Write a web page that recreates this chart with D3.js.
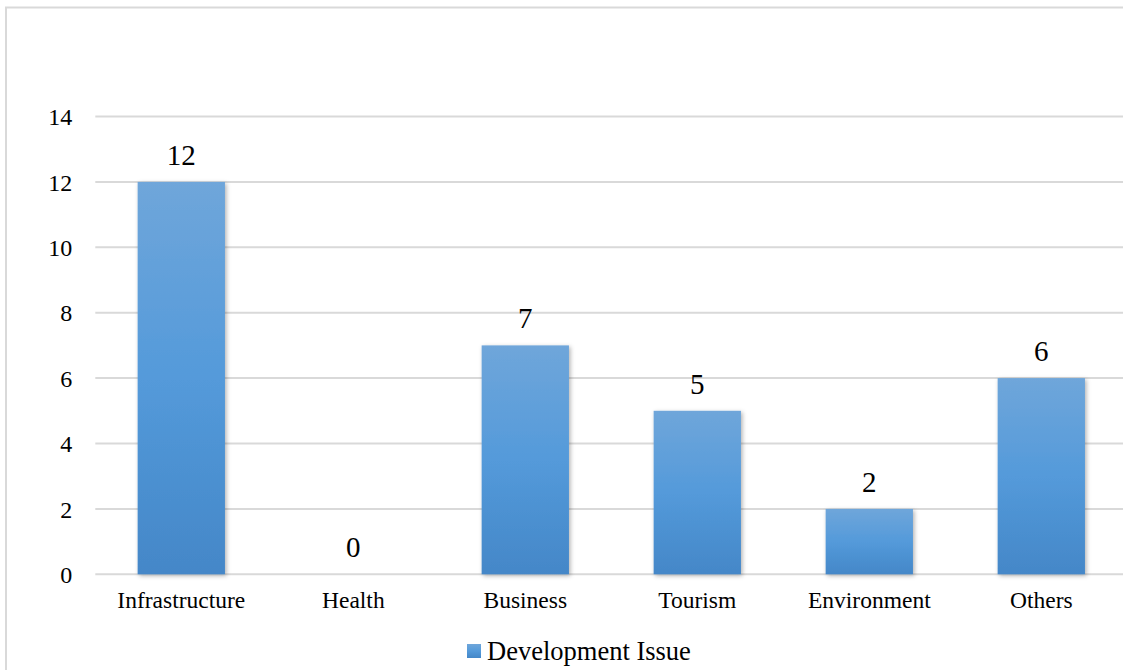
<!DOCTYPE html>
<html>
<head>
<meta charset="utf-8">
<script src="https://cdn.jsdelivr.net/npm/d3@7"></script>
<style>
  html, body { margin: 0; padding: 0; background: #fff; overflow: hidden; }
  svg { display: block; }
</style>
</head>
<body>
<svg id="chart" width="1123" height="670"></svg>
<script>
// Development issue counts per category
const categories = ["Infrastructure", "Health", "Business", "Tourism", "Environment", "Others"];
const values = [12, 0, 7, 5, 2, 6];
const yTicks = [0, 2, 4, 6, 8, 10, 12, 14];
const seriesName = "Development Issue";

const svg = d3.select("#chart");
const W = 1123, H = 670;
const plot = { left: 95.3, right: 1127.3, top: 116.5, bottom: 574.3 };
const serif = "'Liberation Serif', 'Times New Roman', serif";

// outer frame (only the top and left edges fall inside the view)
svg.append("path")
  .attr("d", `M6,${H + 5} V7.5 H${W + 5}`)
  .attr("fill", "none").attr("stroke", "#d9d9d9").attr("stroke-width", 2);

const x = d3.scaleBand()
  .domain(categories)
  .range([plot.left, plot.right])
  .paddingInner(0.4924).paddingOuter(0.2462);

const y = d3.scaleLinear().domain([0, 14]).range([plot.bottom, plot.top]);

const defs = svg.append("defs");
const grad = defs.append("linearGradient")
  .attr("id", "barGrad").attr("x1", 0).attr("y1", 0).attr("x2", 0).attr("y2", 1);
grad.append("stop").attr("offset", "0%").attr("stop-color", "#6fa6da");
grad.append("stop").attr("offset", "50%").attr("stop-color", "#549ada");
grad.append("stop").attr("offset", "100%").attr("stop-color", "#4487c8");

const shadow = defs.append("filter").attr("id", "barShadow")
  .attr("x", "-20%").attr("y", "-5%").attr("width", "140%").attr("height", "115%");
shadow.append("feDropShadow")
  .attr("dx", 1.5).attr("dy", 1.5).attr("stdDeviation", 2)
  .attr("flood-color", "#000").attr("flood-opacity", 0.3);

// gridlines
svg.append("g")
  .selectAll("line")
  .data(yTicks)
  .join("line")
  .attr("x1", plot.left).attr("x2", W)
  .attr("y1", d => y(d)).attr("y2", d => y(d))
  .attr("stroke", "#d9d9d9").attr("stroke-width", 2);

// y axis labels
const yAxis = d3.axisLeft(y).tickValues(yTicks).tickSize(0).tickPadding(0);
const gy = svg.append("g").attr("transform", `translate(${plot.left - 23},0)`).call(yAxis);
gy.select(".domain").remove();
gy.selectAll("text")
  .style("font-family", serif).style("font-size", "24px")
  .attr("fill", "#000").attr("dy", "0.34em");

// bars
svg.append("g")
  .selectAll("rect")
  .data(values)
  .join("rect")
  .attr("x", (d, i) => x(categories[i]))
  .attr("y", d => y(d))
  .attr("width", x.bandwidth())
  .attr("height", d => y(0) - y(d))
  .attr("fill", "url(#barGrad)")
  .attr("filter", "url(#barShadow)");

// value labels
svg.append("g")
  .selectAll("text")
  .data(values)
  .join("text")
  .attr("x", (d, i) => x(categories[i]) + x.bandwidth() / 2)
  .attr("y", d => y(d) - 17)
  .attr("text-anchor", "middle")
  .style("font-family", serif).style("font-size", "29px")
  .attr("fill", "#000")
  .text(d => d);

// x axis labels
const xAxis = d3.axisBottom(x).tickSize(0).tickPadding(0);
const gx = svg.append("g").attr("transform", `translate(0,${y(0) + 34})`).call(xAxis);
gx.select(".domain").remove();
gx.selectAll("text")
  .style("font-family", serif).style("font-size", "23.5px")
  .attr("fill", "#000").attr("dy", 0);

// legend
const lg = svg.append("g").attr("transform", "translate(467,644)");
lg.append("rect").attr("x", 0).attr("y", 0).attr("width", 14).attr("height", 14)
  .attr("fill", "url(#barGrad)");
lg.append("text").attr("x", 20).attr("y", 16)
  .style("font-family", serif).style("font-size", "26.5px")
  .attr("fill", "#000").text(seriesName);
</script>
</body>
</html>
